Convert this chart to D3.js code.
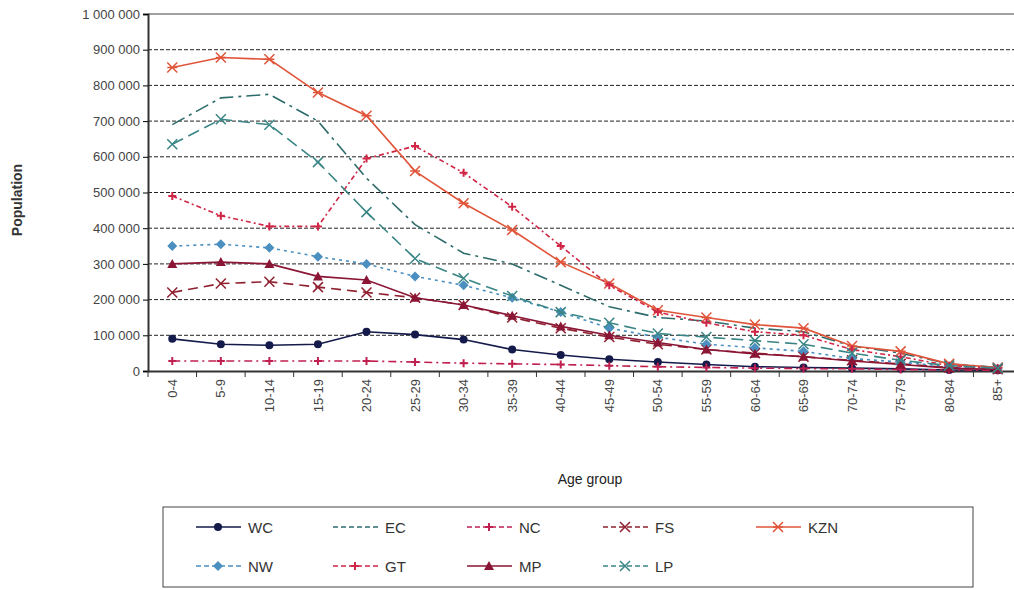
<!DOCTYPE html><html><head><meta charset="utf-8"><script src="https://cdn.jsdelivr.net/npm/d3@7"></script>
<style>body{margin:0;background:#fff}text{font-family:"Liberation Sans",Arial,sans-serif}</style></head><body><svg id="c" width="1014" height="590"></svg><script>
const ages=["0-4","5-9","10-14","15-19","20-24","25-29","30-34","35-39","40-44","45-49","50-54","55-59","60-64","65-69","70-74","75-79","80-84","85+"];
const WC=[90,75,72,75,110,102,88,60,45,33,25,18,12,10,8,6,3,2];
const EC=[690,765,775,700,540,410,330,300,240,180,150,140,120,110,70,50,20,10];
const NC=[28,28,28,28,28,25,22,20,18,15,12,10,8,7,6,4,3,2];
const FS=[220,245,250,235,220,205,185,150,120,95,75,60,50,40,30,20,10,5];
const KZN=[850,878,873,780,715,560,470,395,305,245,170,150,130,120,70,55,20,10];
const NW=[350,355,345,320,300,265,240,205,165,120,95,75,65,55,35,25,12,6];
const GT=[490,435,405,405,595,630,555,460,350,240,165,135,110,100,60,40,15,8];
const MP=[300,305,300,265,255,205,185,155,125,100,80,60,48,40,28,18,8,4];
const LP=[635,705,690,585,445,315,260,210,165,135,105,95,85,75,50,30,15,8];
const yTicks=[0,100,200,300,400,500,600,700,800,900,1000];
const series=[
{n:"WC",d:WC,c:"#141a4a",dash:null,m:"dot"},
{n:"EC",d:EC,c:"#2e6b6b",dash:"14,5,3,5",m:null},
{n:"NC",d:NC,c:"#c02050",dash:"8,4,2,4",m:"plus"},
{n:"FS",d:FS,c:"#902030",dash:"10,6",m:"x"},
{n:"KZN",d:KZN,c:"#e0553a",dash:null,m:"star"},
{n:"NW",d:NW,c:"#4a8fc0",dash:"3,4",m:"dia"},
{n:"GT",d:GT,c:"#d02545",dash:"5,3,2,3",m:"plus"},
{n:"MP",d:MP,c:"#8a1535",dash:null,m:"tri"},
{n:"LP",d:LP,c:"#3a8585",dash:"12,6",m:"x"}];
const svg=d3.select("#c");
const L=148,R=1022,T=14,B=371;
const x=d3.scaleBand().domain(ages).range([L,R]);
const y=d3.scaleLinear().domain([0,1000]).range([B,T]);
const fmt=v=>d3.format(",")(v*1000).replace(/,/g," ");
yTicks.slice(1).forEach(t=>svg.append("line").attr("x1",L).attr("x2",1014).attr("y1",y(t)).attr("y2",y(t)).attr("stroke",t==1000?"#444":"#222").attr("stroke-width",1).attr("stroke-dasharray",t==1000?null:"4,2"));
const ya=svg.append("g").attr("transform",`translate(${L},0)`).call(d3.axisLeft(y).tickValues(yTicks).tickFormat(fmt).tickSize(5));
ya.selectAll("text").attr("font-size",13).attr("fill","#444");
const xa=svg.append("g").attr("transform",`translate(0,${B})`).call(d3.axisBottom(x).tickSize(0));
xa.selectAll("text").attr("font-size",13).attr("fill","#444").attr("transform","rotate(-90)").attr("text-anchor","end").attr("dx","-8").attr("dy","-0.3em").attr("x",0).attr("y",0)
 .each(function(d){d3.select(this).attr("transform",`translate(0,0) rotate(-90)`)});
xa.selectAll(".tick text").attr("dy","0.35em");
ages.forEach((a,i)=>{const xx=x(a);svg.append("line").attr("x1",xx).attr("x2",xx).attr("y1",B).attr("y2",B+6).attr("stroke","#333");});
svg.selectAll(".domain").attr("stroke","#333").attr("stroke-width",2);
const line=d3.line().x((d,i)=>x(ages[i])+x.bandwidth()/2).y(d=>y(d));
function marker(g,type,cx,cy,c){
 if(type=="dot")g.append("circle").attr("cx",cx).attr("cy",cy).attr("r",4).attr("fill",c);
 else if(type=="dia")g.append("path").attr("d",`M${cx},${cy-5}L${cx+5},${cy}L${cx},${cy+5}L${cx-5},${cy}Z`).attr("fill",c);
 else if(type=="tri")g.append("path").attr("d",`M${cx},${cy-5}L${cx+5},${cy+4}L${cx-5},${cy+4}Z`).attr("fill",c);
 else if(type=="plus")g.append("path").attr("d",`M${cx-4},${cy}H${cx+4}M${cx},${cy-4}V${cy+4}`).attr("stroke",c).attr("stroke-width",2);
 else if(type=="x")g.append("path").attr("d",`M${cx-5},${cy-5}L${cx+5},${cy+5}M${cx+5},${cy-5}L${cx-5},${cy+5}`).attr("stroke",c).attr("stroke-width",1.5);
 else if(type=="star")g.append("path").attr("d",`M${cx-5},${cy-5}L${cx+5},${cy+5}M${cx+5},${cy-5}L${cx-5},${cy+5}M${cx-5},${cy}H${cx+5}`).attr("stroke",c).attr("stroke-width",1.5);
}
series.forEach(s=>{
 svg.append("path").attr("d",line(s.d)).attr("fill","none").attr("stroke",s.c).attr("stroke-width",1.6).attr("stroke-dasharray",s.dash);
 const g=svg.append("g");
 if(s.m)s.d.forEach((v,i)=>marker(g,s.m,x(ages[i])+x.bandwidth()/2,y(v),s.c));
});
svg.append("text").attr("transform","translate(22,200) rotate(-90)").attr("text-anchor","middle").attr("font-size",14).attr("font-weight","bold").attr("fill","#333").text("Population");
svg.append("text").attr("x",590).attr("y",484).attr("text-anchor","middle").attr("font-size",14).attr("fill","#222").text("Age group");
svg.append("rect").attr("x",163).attr("y",507).attr("width",810).attr("height",80).attr("fill","none").attr("stroke","#444");
const pos=[[196,527],[333,527],[467,527],[603,527],[756,527],[196,566],[333,566],[467,566],[603,566]];
series.forEach((s,i)=>{const [lx,ly]=pos[i];const g=svg.append("g");
 g.append("line").attr("x1",lx).attr("x2",lx+45).attr("y1",ly).attr("y2",ly).attr("stroke",s.c).attr("stroke-width",1.6).attr("stroke-dasharray",s.dash?"5,3":null);
 if(s.m)marker(g,s.m,lx+22,ly,s.c);
 g.append("text").attr("x",lx+52).attr("y",ly+6).attr("font-size",15).attr("fill","#333").text(s.n);});
</script></body></html>
